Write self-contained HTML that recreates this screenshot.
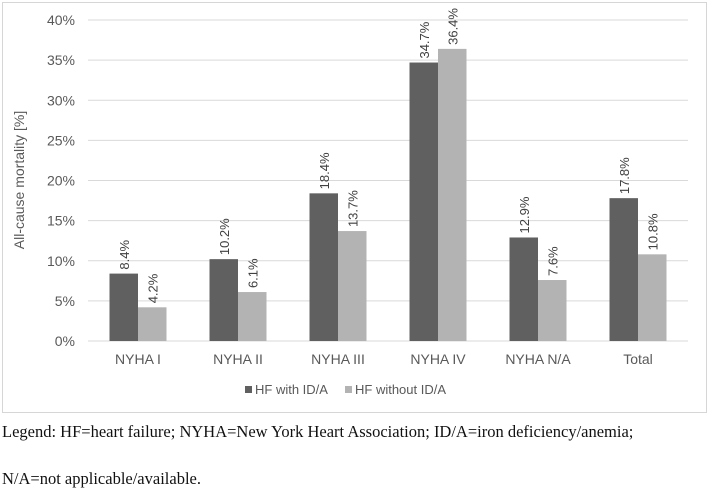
<!DOCTYPE html>
<html><head><meta charset="utf-8"><style>
body{margin:0;background:#fff;width:709px;height:495px;overflow:hidden;font-family:"Liberation Sans",sans-serif}
.cap{position:absolute;left:2px;font-family:"Liberation Serif",serif;font-size:16.5px;color:#111;white-space:nowrap}
</style></head><body>
<svg width="709" height="420" style="position:absolute;left:0;top:0">
<rect x="2.5" y="2.5" width="704" height="410" fill="#fff" stroke="#d6d6d6"/>
<g id="grid"></g><g id="bars"></g><g id="labels"></g>
<text transform="translate(24,180) rotate(-90)" text-anchor="middle" font-size="14" fill="#595959">All-cause mortality [%]</text>
<g>
<rect x="245" y="386" width="7" height="7" fill="#606060"/>
<text x="255" y="394" font-size="13" fill="#595959">HF with ID/A</text>
<rect x="345" y="386" width="7" height="7" fill="#b3b3b3"/>
<text x="355" y="394" font-size="13" fill="#595959">HF without ID/A</text>
</g>
</svg>
<div class="cap" style="top:422px">Legend: HF=heart failure; NYHA=New York Heart Association; ID/A=iron deficiency/anemia;</div>
<div class="cap" style="top:469px">N/A=not applicable/available.</div>
<script>
const categories=["NYHA I","NYHA II","NYHA III","NYHA IV","NYHA N/A","Total"];
const withIDA=[8.4,10.2,18.4,34.7,12.9,17.8];
const withoutIDA=[4.2,6.1,13.7,36.4,7.6,10.8];
const yTicks=[0,5,10,15,20,25,30,35,40];
const NS="http://www.w3.org/2000/svg";
const x0=88,x1=688,y0=341,yTop=20,yMax=40;
const y=v=>y0-(v/yMax)*(y0-yTop);
const band=(x1-x0)/categories.length;
const cx=i=>x0+band*(i+0.5);
const bw=28.5;
function mk(t,a){const e=document.createElementNS(NS,t);for(const k in a)e.setAttribute(k,a[k]);return e;}
const grid=document.getElementById('grid'),bars=document.getElementById('bars'),labels=document.getElementById('labels');
yTicks.forEach(t=>{
 const l=mk('line',{x1:x0,x2:x1,y1:y(t),y2:y(t),stroke:'#d9d9d9','stroke-width':1});
 
 
 grid.appendChild(l);
 const tx=mk('text',{x:75,y:y(t)+5,'text-anchor':'end','font-size':14,fill:'#595959'});
 tx.textContent=t+'%';
 
 
 grid.appendChild(tx);
});
categories.forEach((c,i)=>{
 [[withIDA,'#606060',-bw,'with'],[withoutIDA,'#b3b3b3',0,'without']].forEach(([arr,col,off,nm])=>{
  const v=arr[i];
  const r=mk('rect',{x:cx(i)+off,y:y(v),width:bw,height:y0-y(v),fill:col});
  
  
  bars.appendChild(r);
  const bx=cx(i)+off+bw/2+5, by=y(v)-4;
  const t=mk('text',{transform:`translate(${bx},${by}) rotate(-90)`,'font-size':13,fill:'#404040'});
  t.textContent=v.toFixed(1)+'%';
  
  
  labels.appendChild(t);
 });
 const ct=mk('text',{x:cx(i),y:364,'text-anchor':'middle','font-size':14,fill:'#595959'});
 ct.textContent=c;
 
 
 labels.appendChild(ct);
});
</script>
</body></html>
